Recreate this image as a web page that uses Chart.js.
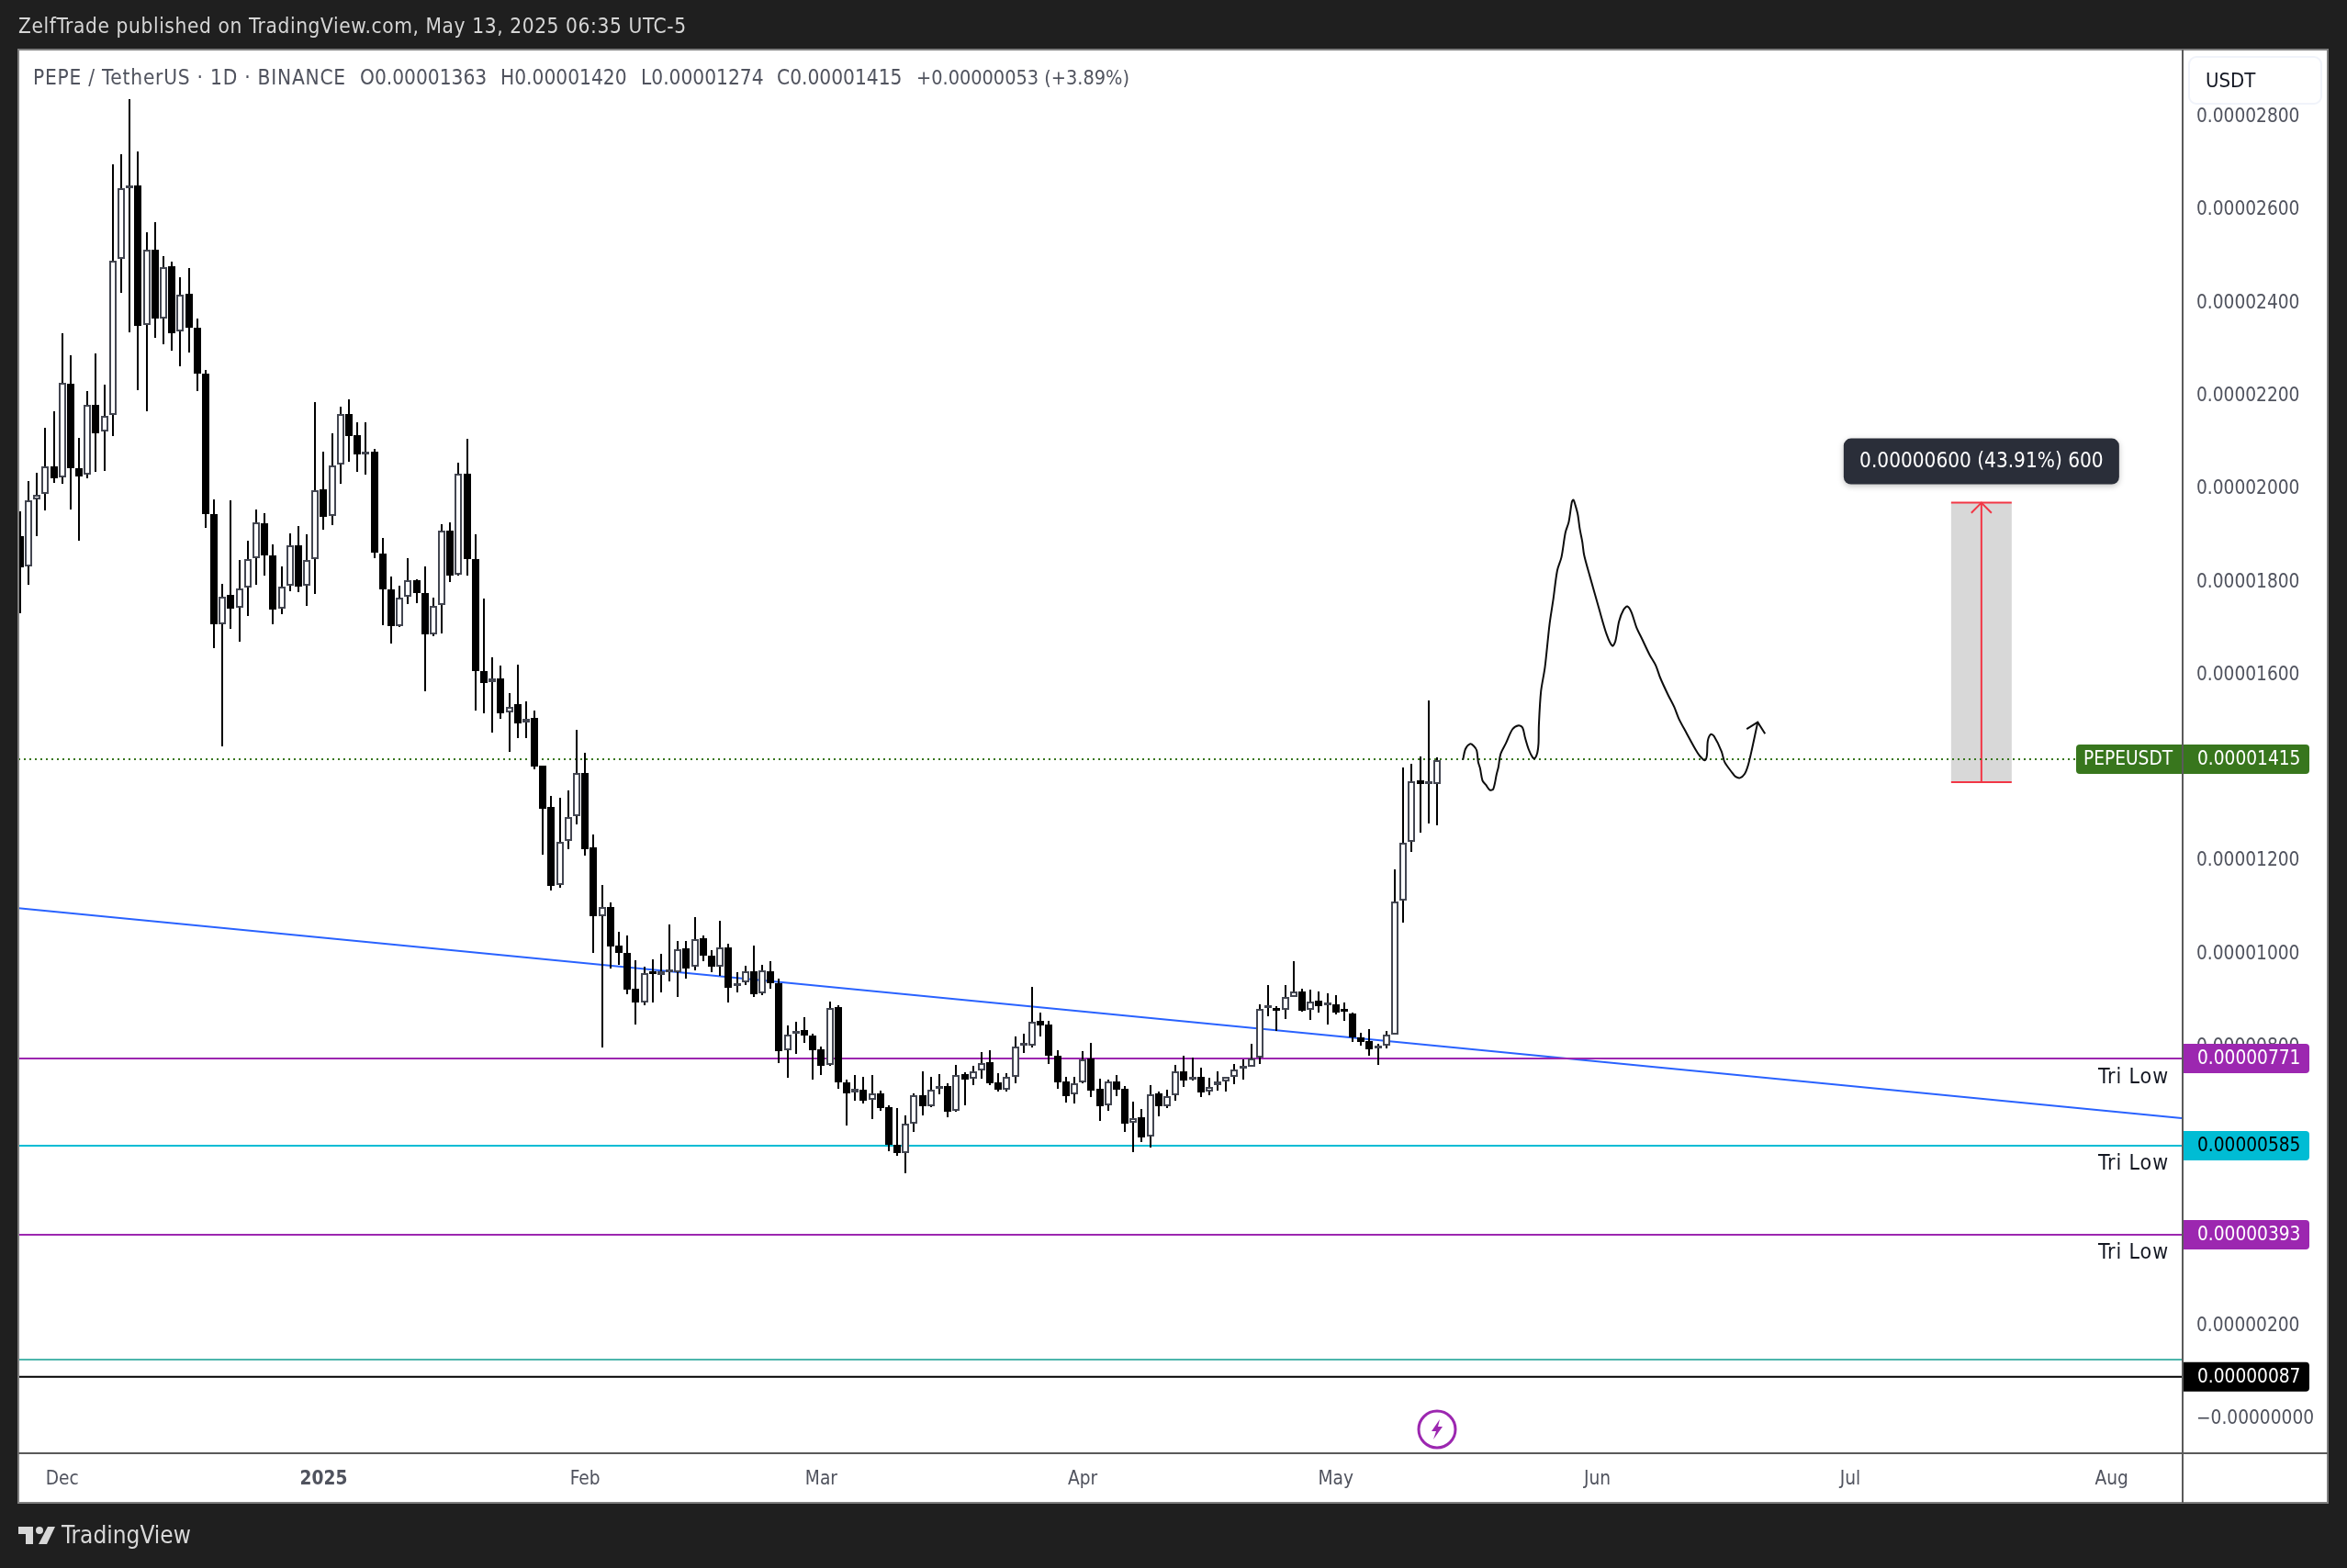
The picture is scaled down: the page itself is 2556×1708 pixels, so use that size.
<!DOCTYPE html>
<html>
  <head>
    <meta charset="utf-8" />
    <title>PEPE / TetherUS</title>
    <style>
      html, body { margin: 0; padding: 0; background: #1f1f1f; }
      canvas { display: block; }
    </style>
  </head>
  <body>
    <canvas id="screen" width="2556" height="1708"></canvas>
    <script src="https://cdn.jsdelivr.net/npm/chart.js@4/dist/chart.umd.min.js"></script>
    <script>
      // prices are in units of 0.00000001, x is days since Nov 26 2024
      const opens = [
        1897,1830,1975,1987,2047,2022,2224,2043,2028,2179,
        2121,2157,2492,2645,2651,2350,2513,2365,2477,2336,
        2417,2345,2246,1944,1707,1769,1742,1785,1849,1924,
        1854,1740,1789,1877,1790,1847,1996,1939,2050,2159,
        2114,2071,2078,1859,1782,1703,1765,1801,1774,1685,
        1748,1907,1814,2031,1846,1605,1582,1591,1517,1534,
        1495,1505,1402,1313,1145,1240,1294,1386,1226,1078,
        1099,1016,1000,922,892,958,953,958,958,1009,
        969,1031,994,969,1011,929,937,961,912,961,
        935,790,826,833,821,793,758,884,722,700,
        706,684,698,667,586,570,632,694,669,707,
        714,660,738,729,747,764,721,706,734,801,
        801,853,845,778,723,696,721,773,707,671,
        724,707,634,646,604,697,669,693,744,728,
        734,701,716,723,734,751,755,775,882,882,
        877,905,917,877,896,888,890,875,869,817,
        810,794,800,824,1112,1238,1370,1362,1363
      ];
      const highs = [
        1949,2015,2033,2130,2165,2333,2286,2108,2208,2290,
        2222,2695,2718,2837,2724,2549,2572,2499,2486,2453,
        2473,2364,2254,1976,1794,1974,1844,1887,1954,1946,
        1879,1830,1903,1918,1901,2185,2077,2118,2175,2191,
        2140,2140,2083,1893,1809,1790,1848,1804,1830,1764,
        1922,1926,2055,2105,1900,1761,1636,1618,1559,1619,
        1540,1520,1402,1337,1334,1350,1479,1431,1254,1145,
        1109,1046,1038,983,969,985,997,1061,1026,1025,
        1076,1038,1005,1068,1020,958,971,1015,973,981,
        944,843,851,861,825,799,894,888,728,736,
        734,736,703,672,665,651,697,745,734,738,
        719,759,742,756,787,790,740,740,819,825,
        926,871,853,790,734,734,788,807,730,728,
        736,713,679,663,715,701,705,758,778,774,
        752,732,744,734,760,771,805,890,930,886,
        930,981,923,920,916,912,908,892,872,827,
        835,804,831,1179,1398,1406,1423,1542,1420
      ];
      const lows = [
        1731,1791,1897,1952,2011,2008,1954,1887,2021,2035,
        2037,2112,2420,2335,2210,2164,2323,2309,2294,2262,
        2292,2208,1914,1656,1443,1696,1669,1725,1791,1811,
        1706,1729,1778,1776,1747,1771,1909,1920,2008,2057,
        2035,2029,1848,1704,1665,1700,1749,1751,1563,1681,
        1687,1798,1812,1811,1521,1514,1474,1503,1433,1461,
        1461,1395,1211,1134,1139,1223,1277,1208,1000,796,
        966,973,911,846,888,892,914,939,905,945,
        963,982,959,951,892,914,931,905,908,923,
        763,731,783,807,728,737,756,707,629,682,
        676,643,659,574,564,526,615,651,667,696,
        647,658,672,716,730,716,702,702,719,784,
        797,820,761,707,678,676,720,690,639,660,
        692,615,572,593,580,649,665,682,711,725,
        690,694,703,701,718,727,754,761,864,832,
        858,904,873,856,871,846,867,853,808,800,
        778,759,795,823,1065,1217,1258,1279,1274
      ];
      const closes = [
        1828,1974,1985,2046,2021,2226,2043,2025,2178,2118,
        2155,2488,2644,2648,2349,2513,2364,2475,2333,2416,
        2345,2245,1944,1706,1765,1741,1783,1847,1925,1854,
        1739,1787,1876,1788,1845,1995,1938,2048,2159,2112,
        2072,2078,1860,1782,1702,1763,1801,1774,1685,1746,
        1907,1811,2030,1846,1605,1581,1590,1515,1529,1494,
        1504,1401,1310,1144,1239,1292,1386,1223,1078,1099,
        1014,1000,921,892,957,955,960,962,1008,966,
        1030,994,969,1012,925,935,960,911,963,935,
        789,824,832,821,791,757,881,722,698,707,
        682,697,666,586,570,632,694,669,706,713,
        657,737,728,745,763,720,706,734,799,803,
        852,844,778,721,692,720,771,704,670,724,
        706,633,645,603,696,670,692,744,726,734,
        700,711,723,733,749,753,773,880,884,876,
        904,917,876,895,886,890,872,873,817,809,
        793,799,824,1111,1237,1369,1362,1364,1415
      ];

      const tickDays = [5, 36, 67, 95, 126, 156, 187, 217, 248];
      const tickNames = ["Dec", "2025", "Feb", "Mar", "Apr", "May", "Jun", "Jul", "Aug"];
      // 1400, 600 and 400 are hidden behind the price tags
      const priceTicks = [2800, 2600, 2400, 2200, 2000, 1800, 1600, 1200, 1000, 800, 200, 0];

      const xMin = -0.196;
      const xMax = 256.3;
      const yMin = -76.6;
      const yMax = 2940.7;

      const trendX = [xMin, xMax];
      const trendY = [1096, 644];

      // levels as printed on the tags, and where the lines sit on the pane
      const lastPrice = 1415;
      const lastLine = 1416.2;
      const triLows = [771, 585, 393];
      const triLines = [772.5, 585, 393.4];
      const tealLevel = 125;
      const blackLevel = 87;
      const blackLine = 87.6;

      // the hand drawn projection
      const pathX = [171.08,171.37,171.91,172.35,172.71,172.89,173.11,173.4,173.8,174.27,174.67,175.07,175.29,175.54,176.16,176.96,177.68,178.15,178.44,178.88,179.35,179.61,179.9,180.04,180.08,180.33,180.8,181.35,181.78,182.26,182.76,183.23,183.63,184,184.18,184.4,184.69,184.94,185.23,185.45,186.14,187.23,188.13,188.79,189.15,189.59,190.13,190.57,191.04,191.65,192.34,193.21,193.94,194.48,195.39,196.12,196.66,197.57,198.66,199.13,199.75,200,200.11,200.47,200.84,201.74,202.11,203.01,203.38,203.92,204.46,204.9,205.37,206.03];
      const pathY = [1415,1438,1449,1445,1435,1410,1397,1370,1361,1350,1352,1384,1400,1427,1450,1481,1489,1484,1463,1437,1420,1418,1430,1450,1489,1562,1614,1707,1759,1822,1851,1904,1927,1970,1974,1963,1943,1911,1884,1855,1809,1739,1684,1660,1670,1713,1738,1745,1733,1700,1674,1641,1618,1591,1555,1529,1504,1473,1437,1424,1414,1424,1456,1470,1466,1433,1410,1387,1379,1376,1384,1404,1440,1496];
      const arrowX = [204.72, 206.03, 206.9];
      const arrowY = [1481, 1496, 1471];

      // price range tool
      const rangeLeft = 228.96;
      const rangeRight = 236.14;
      const rangeMid = 232.55;
      const rangeLow = 1367;
      const rangeHigh = 1968;
      const rangeHeadX = [231.35, 232.55, 233.75];
      const rangeHeadY = [1946, 1968, 1946];

      const FONT = '"DejaVu Sans Condensed", "Noto Sans", sans-serif';
      const UP_BORDER = "#434651";

      function pts(xs, ys) {
        return xs.map((x, i) => ({ x: x, y: ys[i] }));
      }

      function lineSet(xs, ys, color, width, extra) {
        return Object.assign({
          type: "line",
          data: pts(xs, ys),
          borderColor: color,
          borderWidth: width,
          pointRadius: 0,
          fill: false,
          tension: 0
        }, extra || {});
      }

      function hLine(level, color, width, extra) {
        return lineSet([xMin, xMax], [level, level], color, width, extra);
      }

      function priceText(v) {
        return (v * 1e-8).toFixed(8);
      }

      function tag(ctx, left, y, right, color, textColor, label, labelX) {
        ctx.fillStyle = color;
        ctx.beginPath();
        ctx.roundRect(left, y - 16, right - left, 32, left < 2300 ? 4 : [0, 4, 4, 0]);
        ctx.fill();
        ctx.fillStyle = textColor;
        ctx.font = "20.7px " + FONT;
        ctx.textAlign = "left";
        ctx.textBaseline = "middle";
        ctx.fillText(label, labelX, y + 1);
      }

      // candles sit on whole pixels, like the original
      const snap = {
        id: "snap",
        afterDatasetsUpdate(chart) {
          [0, 1].forEach(function (i) {
            chart.getDatasetMeta(i).data.forEach(function (bar) {
              bar.x = Math.round(bar.x);
              bar.y = Math.round(bar.y);
              bar.base = Math.round(bar.base);
            });
          });
        }
      };

      const chrome = {
        id: "chrome",
        beforeDraw(chart) {
          const ctx = chart.ctx;
          ctx.save();
          ctx.fillStyle = "#ffffff";
          ctx.fillRect(20, 54, 2515, 1583);
          ctx.restore();
        },
        afterDraw(chart) {
          const ctx = chart.ctx;
          const y = chart.scales.y;
          const x = chart.scales.x;
          ctx.save();

          // frame
          ctx.strokeStyle = "#7f7f7f";
          ctx.lineWidth = 2;
          ctx.strokeRect(20, 54, 2515, 1583);
          ctx.strokeStyle = "#5a5a5a";
          ctx.beginPath();
          ctx.moveTo(2377, 54);
          ctx.lineTo(2377, 1637);
          ctx.moveTo(20, 1583);
          ctx.lineTo(2535, 1583);
          ctx.stroke();

          // header and footer
          ctx.textBaseline = "middle";
          ctx.textAlign = "left";
          ctx.fillStyle = "#d6d6d6";
          ctx.font = "22.5px " + FONT;
          ctx.letterSpacing = "0.6px";
          ctx.fillText("ZelfTrade published on TradingView.com, May 13, 2025 06:35 UTC-5", 20, 30);
          ctx.fillStyle = "#50535e";
          ctx.letterSpacing = "0.77px";
          ctx.fillText("PEPE / TetherUS · 1D · BINANCE", 36, 86);
          ctx.letterSpacing = "0px";
          const ohlc = [
            ["O0.00001363", 392], ["H0.00001420", 545], ["L0.00001274", 698],
            ["C0.00001415", 846]
          ];
          ohlc.forEach(function (o) { ctx.fillText(o[0], o[1], 86); });
          ctx.font = "21.5px " + FONT;
          ctx.fillText("+0.00000053 (+3.89%)", 998, 86);

          // logo
          ctx.fillStyle = "#d8d8d8";
          ctx.beginPath();
          ctx.moveTo(20, 1663); ctx.lineTo(36, 1663); ctx.lineTo(36, 1682);
          ctx.lineTo(28, 1682); ctx.lineTo(28, 1671); ctx.lineTo(20, 1671);
          ctx.closePath();
          ctx.moveTo(52, 1663); ctx.lineTo(60, 1663); ctx.lineTo(51, 1682);
          ctx.lineTo(42, 1682);
          ctx.closePath();
          ctx.fill();
          ctx.beginPath();
          ctx.arc(43, 1667, 4, 0, Math.PI * 2);
          ctx.fill();
          ctx.font = "26px " + FONT;
          ctx.fillText("TradingView", 67, 1674);

          // currency button
          ctx.fillStyle = "#ffffff";
          ctx.strokeStyle = "#f0f3fa";
          ctx.beginPath();
          ctx.roundRect(2384, 62, 144, 51, 8);
          ctx.fill();
          ctx.stroke();
          ctx.fillStyle = "#131722";
          ctx.font = "22px " + FONT;
          ctx.fillText("USDT", 2402, 89);

          // Tri Low labels
          ctx.textAlign = "right";
          ctx.fillStyle = "#131722";
          ctx.font = "23px " + FONT;
          ctx.letterSpacing = "0.9px";
          triLows.forEach(function (v) {
            ctx.fillText("Tri Low", 2362, y.getPixelForValue(v) + 20);
          });
          ctx.letterSpacing = "0px";

          // price tags
          tag(ctx, 2261, y.getPixelForValue(lastLine), 2515, "#38761d", "#ffffff", "PEPEUSDT", 2269);
          ctx.fillStyle = "#5a5a5a";
          ctx.fillRect(2376, y.getPixelForValue(lastLine) - 16, 2, 32);
          ctx.fillStyle = "#ffffff";
          ctx.textAlign = "left";
          ctx.fillText(priceText(lastPrice), 2393, y.getPixelForValue(lastLine) + 1);
          tag(ctx, 2378, y.getPixelForValue(triLines[0]), 2515, "#9c27b0", "#ffffff", priceText(triLows[0]), 2393);
          tag(ctx, 2378, y.getPixelForValue(triLines[1]), 2515, "#00bcd4", "#000000", priceText(triLows[1]), 2393);
          tag(ctx, 2378, y.getPixelForValue(triLines[2]), 2515, "#9c27b0", "#ffffff", priceText(triLows[2]), 2393);
          tag(ctx, 2378, y.getPixelForValue(blackLine), 2515, "#000000", "#ffffff", priceText(blackLevel), 2393);

          // measure label
          const midPx = x.getPixelForValue(rangeMid);
          const topPx = y.getPixelForValue(rangeHigh);
          ctx.save();
          ctx.shadowColor = "rgba(0,0,0,0.25)";
          ctx.shadowBlur = 6;
          ctx.shadowOffsetY = 2;
          ctx.fillStyle = "#2a2e39";
          ctx.beginPath();
          ctx.roundRect(midPx - 150, topPx - 70, 300, 50, 8);
          ctx.fill();
          ctx.restore();
          ctx.fillStyle = "#ffffff";
          ctx.font = "22.4px " + FONT;
          ctx.textAlign = "center";
          ctx.fillText("0.00000600 (43.91%) 600", midPx, topPx - 44);

          // flash icon
          ctx.strokeStyle = "#9c27b0";
          ctx.lineWidth = 3;
          ctx.beginPath();
          ctx.arc(1565, 1557, 20, 0, Math.PI * 2);
          ctx.stroke();
          ctx.fillStyle = "#9c27b0";
          ctx.beginPath();
          ctx.moveTo(1568, 1546); ctx.lineTo(1559, 1559); ctx.lineTo(1564, 1559);
          ctx.lineTo(1561, 1568); ctx.lineTo(1571, 1554); ctx.lineTo(1566, 1554);
          ctx.closePath();
          ctx.fill();

          ctx.restore();
        }
      };

      const ctx = document.getElementById("screen").getContext("2d");

      const chart = new Chart(ctx, {
        type: "bar",
        plugins: [snap, chrome],
        data: {
          datasets: [
            {
              data: opens.map((o, i) => ({ x: i, y: [o, closes[i]] })),
              backgroundColor: opens.map((o, i) => (closes[i] >= o ? "#ffffff" : "#000000")),
              borderColor: opens.map((o, i) => (closes[i] >= o ? UP_BORDER : "#000000")),
              borderWidth: 2,
              borderSkipped: false,
              inflateAmount: 0,
              barThickness: 8,
              minBarLength: 3,
              grouped: false
            },
            {
              data: lows.map((l, i) => ({ x: i, y: [l, highs[i]] })),
              backgroundColor: "#000000",
              borderWidth: 0,
              inflateAmount: 0,
              barThickness: 2,
              grouped: false
            },
            lineSet(pathX, pathY, "#0d0d0d", 2, { tension: 0.3 }),
            lineSet(arrowX, arrowY, "#0d0d0d", 2),
            hLine(lastLine, "#38761d", 2, { borderDash: [2, 4] }),
            hLine(triLines[0], "#9c27b0", 2),
            hLine(triLines[1], "#00bcd4", 2),
            hLine(triLines[2], "#9c27b0", 2),
            hLine(tealLevel, "#4db6ac", 2),
            hLine(blackLine, "#000000", 2),
            lineSet(trendX, trendY, "#2962ff", 2),
            lineSet(rangeHeadX, rangeHeadY, "#f23645", 2),
            lineSet([rangeMid, rangeMid], [rangeLow, rangeHigh], "#f23645", 2),
            lineSet([rangeLeft, rangeRight], [rangeHigh, rangeHigh], "#f23645", 2),
            lineSet([rangeLeft, rangeRight], [rangeLow, rangeLow], "#f23645", 2),
            {
              data: [{ x: rangeMid, y: [rangeLow, rangeHigh] }],
              backgroundColor: "#d8d8d8",
              borderWidth: 0,
              inflateAmount: 0,
              barThickness: 66,
              grouped: false
            }
          ]
        },
        options: {
          responsive: false,
          animation: false,
          events: [],
          layout: { padding: { left: 20, top: 55, right: 21, bottom: 71 } },
          plugins: { legend: { display: false }, tooltip: { enabled: false } },
          scales: {
            x: {
              type: "linear",
              offset: false,
              min: xMin,
              max: xMax,
              grid: { display: false, drawTicks: false },
              border: { display: false },
              afterBuildTicks(scale) { scale.ticks = tickDays.map(v => ({ value: v })); },
              afterFit(scale) { scale.height = 54; },
              ticks: {
                autoSkip: false,
                maxRotation: 0,
                padding: 16,
                color: "#50535e",
                font: c => ({ family: FONT, size: 20.7, weight: c.index === 1 ? "bold" : "normal" }),
                callback: v => tickNames[tickDays.indexOf(v)]
              }
            },
            y: {
              position: "right",
              min: yMin,
              max: yMax,
              grid: { display: false, drawTicks: false },
              border: { display: false },
              afterBuildTicks(scale) { scale.ticks = priceTicks.map(v => ({ value: v })); },
              afterFit(scale) { scale.width = 159; },
              ticks: {
                autoSkip: false,
                padding: 16,
                labelOffset: 1.5,
                color: "#50535e",
                font: { family: FONT, size: 20.7 },
                callback: v => (v === 0 ? "\u22120.00000000" : priceText(v))
              }
            }
          }
        }
      });
    </script>
  </body>
</html>
